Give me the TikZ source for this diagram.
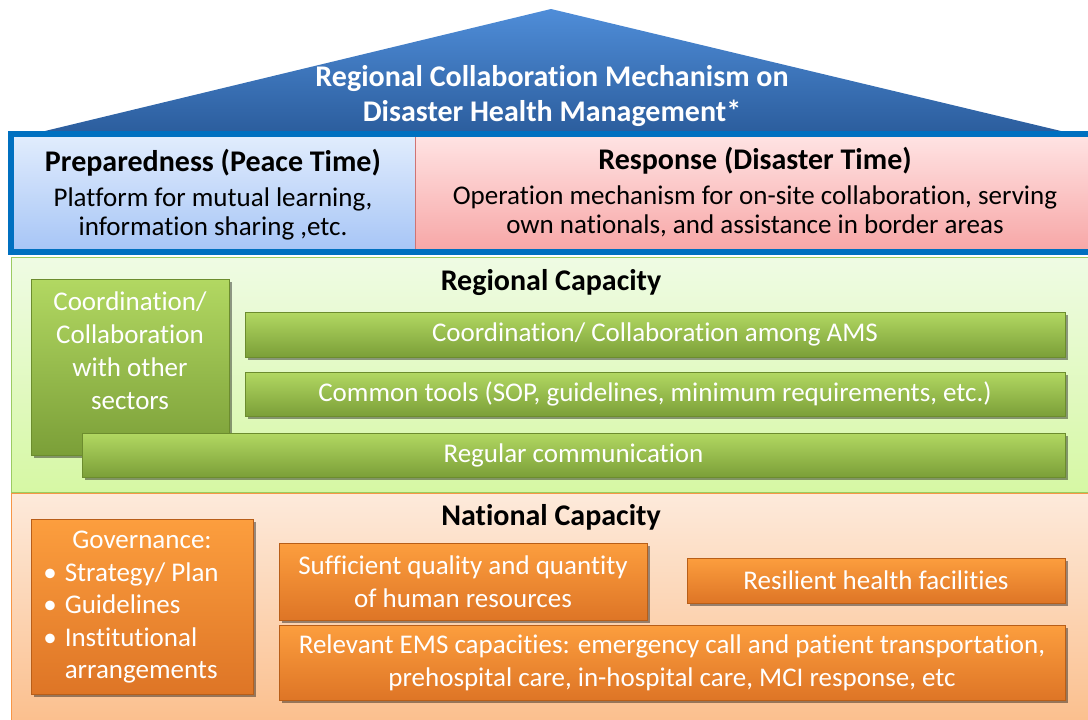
\documentclass[tikz,border=0pt]{standalone}
\usepackage{fontspec}
\setmainfont{Carlito}[Ligatures=NoCommon]
\usetikzlibrary{shadows}
\definecolor{rooftop}{HTML}{4F8DD8}
\definecolor{roofbot}{HTML}{2C5E9E}
\definecolor{bluebrd}{HTML}{0070C0}
\definecolor{preptop}{HTML}{E2EDFD}
\definecolor{prepbot}{HTML}{A6C5F6}
\definecolor{resptop}{HTML}{FFE4E4}
\definecolor{respbot}{HTML}{F7A6A6}
\definecolor{respdiv}{HTML}{D07474}
\definecolor{gsectop}{HTML}{EFFBE4}
\definecolor{gsecbot}{HTML}{D6F8A4}
\definecolor{gsecbrd}{HTML}{9CCB62}
\definecolor{osectop}{HTML}{FDEADB}
\definecolor{osecbot}{HTML}{FBBE8B}
\definecolor{osecbrd}{HTML}{F79646}
\definecolor{gtop}{HTML}{B2D862}
\definecolor{gbot}{HTML}{7B9F38}
\definecolor{gborder}{HTML}{6C8C2E}
\definecolor{otop}{HTML}{FC9E3E}
\definecolor{obot}{HTML}{DE7526}
\definecolor{oborder}{HTML}{B85E18}
\begin{document}
\begin{tikzpicture}[x=1pt,y=-1pt,
  boxtext/.style={text=white, font=\fontsize{27}{33}\selectfont, align=center},
  gbox/.style={boxtext, draw=gborder, line width=0.8pt, top color=gtop, bottom color=gbot, inner sep=0pt,
    drop shadow={shadow xshift=2.5pt, shadow yshift=-2.5pt, opacity=0.4, fill=black}},
  obox/.style={boxtext, draw=oborder, line width=0.8pt, top color=otop, bottom color=obot, inner sep=0pt,
    drop shadow={shadow xshift=2.5pt, shadow yshift=-2.5pt, opacity=0.4, fill=black}},
  sectitle/.style={font=\fontsize{30}{34}\bfseries\selectfont, text=black},
  paneltitle/.style={font=\fontsize{30}{34}\bfseries\selectfont, text=black},
  paneltext/.style={font=\fontsize{27}{29}\selectfont, text=black, align=center}]
\clip (0,0) rectangle (1088,720);
% sections
\path[top color=osectop, bottom color=osecbot, draw=osecbrd, line width=1pt] (11,493) rectangle (1100,730);
\path[top color=gsectop, bottom color=gsecbot, draw=gsecbrd, line width=1pt] (11,257) rectangle (1100,492);
% roof
\path[top color=rooftop, bottom color=roofbot] (45,131) -- (551,9) -- (1061,131) -- cycle;
\node[font=\fontsize{30}{35}\bfseries\selectfont, text=white, align=center] (roof) at (552,96)
  {Regional Collaboration Mechanism on\\Disaster Health Management*};
% panels
\path[top color=preptop, bottom color=prepbot] (11,134) rectangle (415,252);
\path[top color=resptop, bottom color=respbot] (415,134) rectangle (1100,252);
\draw[respdiv, line width=1pt] (415,134) -- (415,252);
\draw[bluebrd, line width=6pt] (11,134) rectangle (1100,252);
\node[paneltitle] (prept) at (213,163) {Preparedness (Peace Time)};
\node[paneltext] (prepb) at (213,213.5) {Platform for mutual learning,\\information sharing ,etc.};
\node[paneltitle] (respt) at (755,161) {Response (Disaster Time)};
\node[paneltext] (respb) at (755,211.5) {Operation mechanism for on-site collaboration, serving\\own nationals, and assistance in border areas};
% regional capacity
\node[sectitle] (regcap) at (551,283) {Regional Capacity};
\node[gbox, minimum width=198pt, minimum height=176pt] (other) at (130,367) {};
\node[boxtext] (othert) at (130,350.5) {Coordination/\\Collaboration\\with other\\sectors};
\node[gbox, minimum width=820pt, minimum height=45pt] (ams) at (655,334.5) {Coordination/ Collaboration among AMS};
\node[gbox, minimum width=820pt, minimum height=44pt] (tools) at (655,394) {Common tools (SOP, guidelines, minimum requirements, etc.)};
\node[gbox, minimum width=983pt, minimum height=44pt] (comm) at (573.5,455) {Regular communication};
% national capacity
\node[sectitle] (natcap) at (551,517) {National Capacity};
\node[obox, minimum width=222pt, minimum height=175pt] (gov) at (142,607)
  {\fontsize{27}{32.5}\selectfont\begin{tabular}{@{}l@{\hspace{8pt}}l@{}}\multicolumn{2}{c}{\hspace{22pt}Governance:}\\
   \textbullet & Strategy/ Plan\\ \textbullet & Guidelines\\ \textbullet & Institutional\\ & arrangements\end{tabular}\hspace{22pt}};
\node[obox, minimum width=368pt, minimum height=77pt] (hr) at (463,581.5) {Sufficient quality and quantity\\of human resources};
\node[obox, minimum width=378pt, minimum height=45pt] (fac) at (876,580.5) {Resilient health facilities};
\node[obox, minimum width=786pt, minimum height=75pt] (ems) at (672,662.5) {Relevant EMS capacities: emergency call and patient transportation,\\prehospital care, in-hospital care, MCI response, etc};
\end{tikzpicture}
\end{document}
